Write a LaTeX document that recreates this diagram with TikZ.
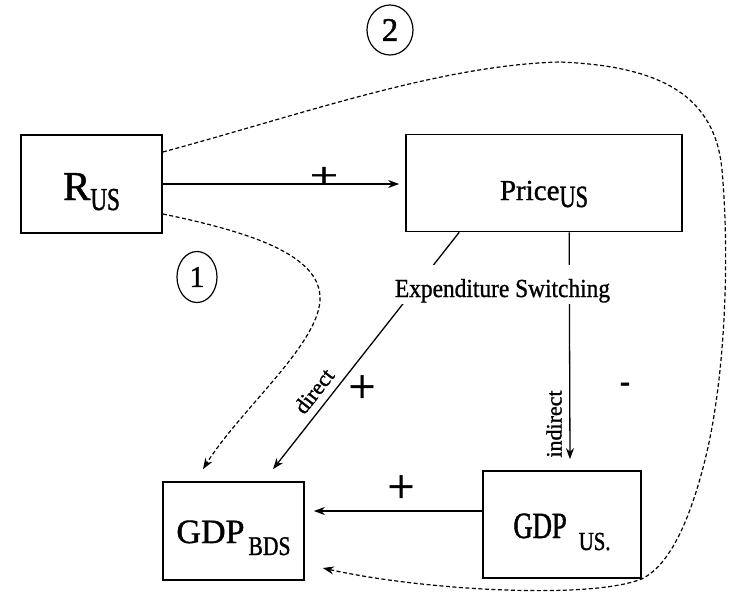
\documentclass[tikz,border=0pt]{standalone}
\usepackage{graphicx}
\usepackage{fontspec}
\setmainfont{Liberation Serif}[FakeBold=1.2]
\newfontfamily\sqa{Liberation Serif}[FakeStretch=0.72,FakeBold=1.2]
\newfontfamily\sqb{Liberation Serif}[FakeStretch=0.8,FakeBold=1.2]
\newfontfamily\sqc{Liberation Serif}[FakeStretch=0.9,FakeBold=1.0]
\usetikzlibrary{arrows.meta,calc,shapes.geometric}
\newcommand\fsz[1]{\fontsize{#1}{#1}\selectfont}
\begin{document}
\begin{tikzpicture}[x=1pt,y=-1pt,
  box/.style={draw,line width=1.7pt,inner sep=0pt,text depth=0pt},
  arr/.style={line width=1.3pt,-{Stealth[length=11pt,width=8pt]}},
  dsh/.style={line width=1.2pt,dash pattern=on 4pt off 2.5pt,-{Stealth[length=11pt,width=8pt]}},
  circ/.style={draw,ellipse,line width=1.2pt,inner sep=0pt},
  lbl/.style={inner sep=0pt}
]
\useasboundingbox (0,0) rectangle (734,597);

% boxes
\node[box,minimum width=141pt,minimum height=98pt,text height=32pt] (rus) at (91.5,184)
  {{\fsz{41}R}\raisebox{-10pt}{\sqa\fsz{32}US}};
\node[box,minimum width=276pt,minimum height=97pt,text height=34pt] (price) at (544,183)
  {{\fsz{29}Price}\raisebox{-7pt}{\sqa\fsz{31}US}\hspace{13pt}};
\node[box,minimum width=141pt,minimum height=98pt,text height=24pt] (gdpb) at (233.5,531)
  {{\fsz{34}GDP}\hspace{4pt}\raisebox{-12pt}{\sqb\fsz{27}BDS}};
\node[box,minimum width=158pt,minimum height=107pt,text height=27pt] (gdpu) at (562,524.5)
  {{\sqa\fsz{37}GDP}\hspace{12pt}\raisebox{-12pt}{\sqb\fsz{26}US.}};

% circled numbers
\node[circ,minimum width=46pt,minimum height=50pt] (c2) at (390,30) {\fsz{33}2};
\node[circ,minimum width=40pt,minimum height=51pt] (c1) at (197,277) {\fsz{30}1};

% coordinates
\coordinate (dA) at ($(price.south west)+(54,0)$);
\coordinate (dB) at ($(gdpb.north)+(39.5,-12)$);
\coordinate (iA) at ($(price.south west)+(164,0)$);
\coordinate (iB) at ($(gdpu.north)+(8,-11)$);
\coordinate (hA) at ($(gdpu.west)+(0,-13.5)$);

% solid connectors
\draw[arr,shorten >=6pt] (rus.east) -- (rus.east -| price.west);
\draw[arr] (dA) -- (dB);
\draw[arr] (iA) -- (iB);
\draw[arr,shorten >=9pt] (hA) -- (hA -| gdpb.east);

% dashed connectors
\draw[dsh] ($(rus.east)+(0,30)$) .. controls (250,232) and (322,255) .. (320,300)
  .. controls (318,345) and (240,410) .. ($(gdpb.north)+(-30.5,-12)$);
\draw[dsh] ($(rus.east)+(0,-32)$) .. controls (300,115) and (440,65) .. (560,62)
  .. controls (660,66) and (715,95) .. (722,170)
  .. controls (730,260) and (725,380) .. (705,460)
  .. controls (690,520) and (670,565) .. (gdpu.south east)
  .. controls (590,600) and (420,590) .. ($(gdpb.east)+(18,37)$);

% labels
\node[lbl,fill=white,inner sep=2pt,anchor=base,text height=30pt,text depth=5pt] (exp) at (502.5,297)
  {\sqc\fsz{26}Expenditure Switching};
\node[lbl] (p1) at (324,177) {\fsz{50}\scalebox{1}[0.7]{+}};
\node[lbl] (p2) at (362,389) {\fsz{48}+};
\node[lbl] (p3) at (401,489) {\fsz{48}+};
\node[lbl] (mn) at (625,387) {\fsz{30}\textbf{-}};
\node[lbl,rotate=52] (dir) at (314,391) {\fsz{22}direct};
\node[lbl,rotate=90] (ind) at (554,424) {\fsz{22}indirect};
\end{tikzpicture}
\end{document}
